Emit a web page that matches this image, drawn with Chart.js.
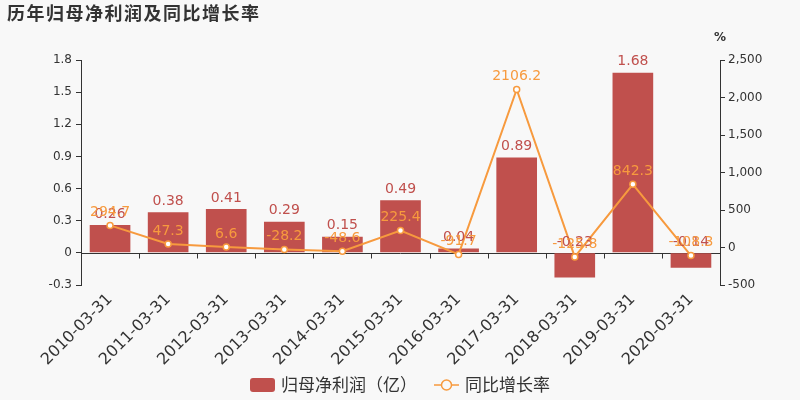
<!DOCTYPE html>
<html>
<head>
<meta charset="utf-8">
<script src="https://cdn.jsdelivr.net/npm/chart.js@4"></script>
<style>
  html, body { margin: 0; padding: 0; background: #f8f8f8; }
  #wrap { width: 800px; height: 400px; position: relative; }
</style>
</head>
<body>
<div id="wrap"><canvas id="profitChart"></canvas></div>
<script>
// chart data
var categories = ["2010-03-31", "2011-03-31", "2012-03-31", "2013-03-31", "2014-03-31", "2015-03-31",
                  "2016-03-31", "2017-03-31", "2018-03-31", "2019-03-31", "2020-03-31"];
var profit = [0.26, 0.38, 0.41, 0.29, 0.15, 0.49, 0.04, 0.89, -0.23, 1.68, -0.14];
var growth = [294.7, 47.3, 6.6, -28.2, -48.6, 225.4, -91.7, 2106.2, -125.8, 842.3, -108.3];
var leftTicks = [-0.3, 0, 0.3, 0.6, 0.9, 1.2, 1.5, 1.8];
var rightTicks = [-500, 0, 500, 1000, 1500, 2000, 2500];

var barColor = "#c0504d";
var lineColor = "#f79a3e";
var textColor = "#333";

document.addEventListener("DOMContentLoaded", function() {
    var ctx = document.getElementById("profitChart").getContext("2d");

    // title, unit, zero line, value labels and legend
    var decorations = {
        id: "decorations",
        beforeDatasetsDraw: function(chart) {
            var c = chart.ctx;
            var area = chart.chartArea;
            var y0 = chart.scales.y.getPixelForValue(0);
            c.save();
            c.strokeStyle = textColor;
            c.lineWidth = 1;
            c.beginPath();
            c.moveTo(area.left, Math.round(y0) + 0.5);
            c.lineTo(area.right, Math.round(y0) + 0.5);
            var step = (area.right - area.left) / categories.length;
            for (var i = 0; i <= categories.length; i++) {
                var tx = Math.round(area.left + step * i) + 0.5;
                c.moveTo(tx, Math.round(y0) + 0.5);
                c.lineTo(tx, Math.round(y0) + 5.5);
            }
            c.stroke();
            c.restore();
        },
        afterDatasetsDraw: function(chart) {
            var c = chart.ctx;
            c.save();
            c.font = "14px 'DejaVu Sans'";
            c.textAlign = "center";
            c.textBaseline = "bottom";

            var bars = chart.getDatasetMeta(0).data;
            c.fillStyle = barColor;
            bars.forEach(function(el, i) {
                var top = Math.min(el.y, el.base);
                c.fillText(String(profit[i]), el.x, top - 4);
            });

            var pts = chart.getDatasetMeta(1).data;
            c.fillStyle = lineColor;
            pts.forEach(function(el, i) {
                c.fillText(String(growth[i]), el.x, el.y - 6);
            });

            // title
            c.textAlign = "left";
            c.textBaseline = "middle";
            c.fillStyle = textColor;
            c.font = "bold 18px 'Noto Sans CJK SC'";
            c.letterSpacing = "1.5px";
            c.fillText("历年归母净利润及同比增长率", 7, 13);
            c.letterSpacing = "0px";

            // unit of right axis
            c.font = "bold 12px 'DejaVu Sans'";
            c.textAlign = "center";
            c.fillText("%", chart.chartArea.right, 38);

            // legend
            c.font = "17px 'Noto Sans CJK SC'";
            var t1 = "归母净利润（亿）", t2 = "同比增长率";
            var w1 = c.measureText(t1).width, w2 = c.measureText(t2).width;
            var total = 25 + 6 + w1 + 17 + 25 + 6 + w2;
            var lx = 400 - total / 2, ly = 385;
            c.fillStyle = barColor;
            c.beginPath();
            c.roundRect(lx, ly - 7, 25, 14, 3);
            c.fill();
            c.fillStyle = textColor;
            c.textAlign = "left";
            c.fillText(t1, lx + 31, ly);
            var lx2 = lx + 31 + w1 + 17;
            c.strokeStyle = lineColor;
            c.lineWidth = 1.5;
            c.beginPath();
            c.moveTo(lx2, ly);
            c.lineTo(lx2 + 25, ly);
            c.stroke();
            c.fillStyle = "#f8f8f8";
            c.beginPath();
            c.arc(lx2 + 12.5, ly, 5, 0, Math.PI * 2);
            c.fill();
            c.stroke();
            c.fillStyle = textColor;
            c.fillText(t2, lx2 + 31, ly);
            c.restore();
        }
    };

    new Chart(ctx, {
        type: "bar",
        data: {
            labels: categories,
            datasets: [{
                type: "bar",
                label: "归母净利润（亿）",
                data: profit,
                backgroundColor: barColor,
                barPercentage: 0.7,
                categoryPercentage: 1,
                yAxisID: "y",
                order: 1
            }, {
                type: "line",
                label: "同比增长率",
                data: growth,
                borderColor: lineColor,
                borderWidth: 2,
                pointRadius: 3,
                pointBorderWidth: 1.5,
                pointBackgroundColor: "#fff",
                pointBorderColor: lineColor,
                fill: false,
                tension: 0,
                yAxisID: "y1",
                order: 0
            }]
        },
        options: {
            responsive: true,
            maintainAspectRatio: false,
            animation: false,
            layout: { padding: { top: 60, bottom: 30, left: 0, right: 0 } },
            plugins: {
                legend: { display: false },
                title: { display: false },
                tooltip: { enabled: false }
            },
            scales: {
                x: {
                    grid: { display: false },
                    border: { display: false },
                    ticks: {
                        autoSkip: false,
                        maxRotation: 45,
                        minRotation: 45,
                        padding: -3,
                        color: textColor,
                        font: { family: "DejaVu Sans", size: 16 }
                    },
                    afterFit: function(scale) { scale.height = 85; }
                },
                y: {
                    position: "left",
                    min: -0.3,
                    max: 1.8,
                    afterBuildTicks: function(axis) {
                        axis.ticks = leftTicks.map(function(v) { return { value: v }; });
                    },
                    grid: { drawOnChartArea: false, color: textColor, tickLength: 5 },
                    border: { display: true, color: textColor },
                    ticks: {
                        color: textColor,
                        padding: 4,
                        font: { family: "DejaVu Sans", size: 12 },
                        callback: function(v) { return v === 0 ? "0" : v.toFixed(1); }
                    },
                    afterFit: function(scale) { scale.width = 81; }
                },
                y1: {
                    position: "right",
                    min: -500,
                    max: 2500,
                    afterBuildTicks: function(axis) {
                        axis.ticks = rightTicks.map(function(v) { return { value: v }; });
                    },
                    grid: { drawOnChartArea: false, color: textColor, tickLength: 5 },
                    border: { display: true, color: textColor },
                    ticks: {
                        color: textColor,
                        padding: 3,
                        font: { family: "DejaVu Sans", size: 12 },
                        callback: function(v) { return v.toLocaleString("en-US"); }
                    },
                    afterFit: function(scale) { scale.width = 80; }
                }
            }
        },
        plugins: [decorations]
    });
});
</script>
</body>
</html>
